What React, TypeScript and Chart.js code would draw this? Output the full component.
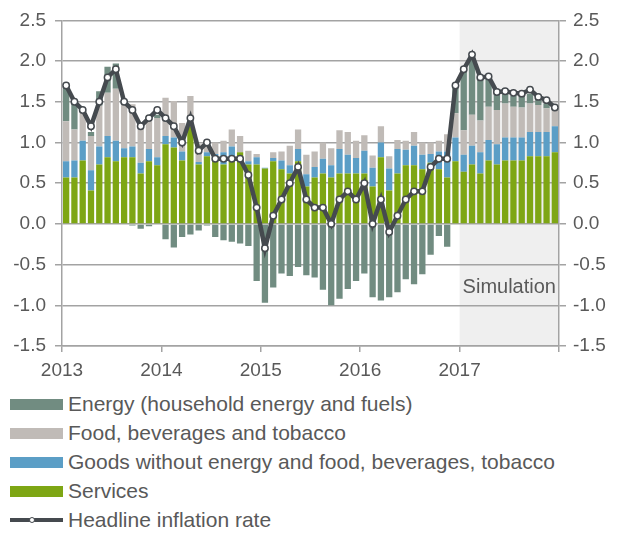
import React, { useEffect, useRef } from "react";
import { Chart, registerables } from "chart.js";

Chart.register(...registerables);

const years = ["2013", "2014", "2015", "2016", "2017"];

// Contributions (percentage points), Jan 2013 – Dec 2017
const services = [
  0.57, 0.57, 0.78, 0.41, 0.73, 0.82, 0.77, 0.82, 0.82, 0.62, 0.77, 0.72,
  0.98, 0.94, 0.78, 1.2, 0.73, 0.83, 0.8, 0.73, 0.82, 0.88, 0.73, 0.73,
  0.68, 0.77, 0.67, 0.62, 0.77, 0.46, 0.57, 0.62, 0.57, 0.62, 0.62, 0.62,
  0.62, 0.46, 0.82, 0.41, 0.62, 0.72, 0.72, 0.67, 0.75, 0.67, 0.57, 0.77,
  0.64, 0.73, 0.62, 0.78, 0.73, 0.78, 0.78, 0.78, 0.83, 0.83, 0.83, 0.88,
];
const goods = [
  0.2, 0.21, 0.24, 0.25, 0.22, 0.26, 0.25, 0.11, 0.13, 0.13, 0.15, 0.1,
  0.1, 0.12, 0.11, 0.0, 0.03, 0.05, 0.06, 0.15, 0.13, 0.0, 0.04, 0.09,
  0.01, 0.04, 0.11, 0.1, 0.15, 0.15, 0.13, 0.18, 0.15, 0.3, 0.23, 0.19,
  0.28, 0.23, 0.18, 0.27, 0.3, 0.19, 0.24, 0.18, 0.11, 0.22, 0.32, 0.29,
  0.21, 0.23, 0.26, 0.25, 0.25, 0.28, 0.28, 0.28, 0.3, 0.3, 0.3, 0.32,
];
const food = [
  0.49, 0.38, 0.37, 0.42, 0.5, 0.53, 0.64, 0.54, 0.52, 0.43, 0.34, 0.48,
  0.47, 0.45, 0.35, 0.37, 0.22, 0.12, 0.14, 0.14, 0.21, 0.2, 0.13, 0.04,
  0.0, 0.07, 0.11, 0.24, 0.24, 0.24, 0.19, 0.2, 0.21, 0.23, 0.28, 0.21,
  0.19, 0.15, 0.2, 0.15, 0.11, 0.11, 0.17, 0.15, 0.14, 0.13, 0.21, 0.3,
  0.3, 0.38, 0.39, 0.41, 0.42, 0.42, 0.38, 0.37, 0.35, 0.33, 0.29, 0.2,
];
const energy = [
  0.43, 0.33, 0.02, 0.05, 0.18, 0.32, 0.31, 0.03, -0.02, -0.06, -0.03, 0.04,
  -0.19, -0.29, -0.16, -0.13, -0.08, -0.02, -0.16, -0.2, -0.22, -0.24, -0.27, -0.7,
  -0.97, -0.78, -0.61, -0.64, -0.53, -0.63, -0.66, -0.81, -1.0, -0.92, -0.8, -0.7,
  -0.61, -0.9, -0.94, -0.9, -0.84, -0.68, -0.74, -0.62, -0.38, -0.15, -0.28, 0.32,
  0.77, 0.7, 0.53, 0.36, 0.22, 0.12, 0.13, 0.14, 0.12, 0.08, 0.06, 0.02,
];
const headline = [
  1.7, 1.5, 1.4, 1.2, 1.5, 1.8, 1.9, 1.5, 1.4, 1.2, 1.3, 1.4,
  1.3, 1.2, 1.0, 1.3, 0.9, 1.0, 0.8, 0.8, 0.8, 0.8, 0.6, 0.2,
  -0.3, 0.1, 0.3, 0.5, 0.7, 0.3, 0.2, 0.2, 0.0, 0.3, 0.4, 0.3,
  0.5, 0.0, 0.3, -0.1, 0.1, 0.3, 0.4, 0.4, 0.7, 0.8, 0.8, 1.7,
  1.9, 2.08, 1.8, 1.81, 1.62, 1.63, 1.61, 1.6, 1.65, 1.56, 1.52, 1.43,
];

const simulationStart = 48; // month index where the simulation starts
const simulationLabel = "Simulation";

const seriesLabels = [
  "Energy (household energy and fuels)",
  "Food, beverages and tobacco",
  "Goods without energy and food, beverages, tobacco",
  "Services",
  "Headline inflation rate",
];

const COLORS = {
  energy: "#718c81",
  food: "#c0bbb7",
  goods: "#5b9ec6",
  services: "#7ea614",
  line: "#454a4f",
  grid: "#a3a3a3",
  text: "#595959",
  shade: "#efefef",
};

const FONT = "'Liberation Sans', Arial, Helvetica, sans-serif";

const monthLabels = years.flatMap((y) =>
  Array.from({ length: 12 }, (_, m) => `${y}-${String(m + 1).padStart(2, "0")}`)
);

const shadePlugin = {
  id: "simShade",
  beforeDraw(chart: any) {
    const { ctx, chartArea, scales } = chart;
    const xs = scales.xt;
    const x0 = xs.getPixelForValue(simulationStart);
    const x1 = xs.getPixelForValue(monthLabels.length);
    ctx.save();
    ctx.fillStyle = COLORS.shade;
    ctx.fillRect(x0, chartArea.top, x1 - x0, chartArea.bottom - chartArea.top);
    ctx.restore();
  },
  afterDatasetsDraw(chart: any) {
    const { ctx, scales } = chart;
    const xs = scales.xt;
    const x0 = xs.getPixelForValue(simulationStart);
    const x1 = xs.getPixelForValue(monthLabels.length);
    const y = scales.y.getPixelForValue(-0.78);
    ctx.save();
    ctx.fillStyle = COLORS.text;
    ctx.font = `20px ${FONT}`;
    ctx.textAlign = "center";
    ctx.textBaseline = "middle";
    ctx.fillText(simulationLabel, (x0 + x1) / 2, y);
    ctx.restore();
  },
};

export default function App() {
  const ref = useRef<HTMLCanvasElement | null>(null);

  useEffect(() => {
    if (!ref.current) return;
    const barBase = {
      type: "bar" as const,
      yAxisID: "y",
      xAxisID: "x",
      barPercentage: 0.76,
      categoryPercentage: 1,
      borderWidth: 0,
      order: 1,
    };
    const chart = new Chart(ref.current, {
      type: "bar",
      data: {
        labels: monthLabels,
        datasets: [
          { ...barBase, label: seriesLabels[3], data: services, backgroundColor: COLORS.services },
          { ...barBase, label: seriesLabels[2], data: goods, backgroundColor: COLORS.goods },
          { ...barBase, label: seriesLabels[1], data: food, backgroundColor: COLORS.food },
          { ...barBase, label: seriesLabels[0], data: energy, backgroundColor: COLORS.energy },
          {
            type: "line" as const,
            label: seriesLabels[4],
            data: headline,
            yAxisID: "y2",
            xAxisID: "x",
            borderColor: COLORS.line,
            borderWidth: 4.5,
            pointRadius: 3.2,
            pointBorderWidth: 1.5,
            pointBackgroundColor: "#ffffff",
            pointBorderColor: COLORS.line,
            tension: 0,
            order: 0,
          } as any,
        ],
      },
      options: {
        responsive: false,
        animation: false,
        layout: { padding: { top: 0, left: 0, right: 0, bottom: 0 } },
        plugins: { legend: { display: false }, tooltip: { enabled: false } },
        scales: {
          x: {
            type: "category",
            display: false,
            stacked: true,
            offset: true,
          },
          xt: {
            type: "linear",
            position: "bottom",
            min: 0,
            max: monthLabels.length,
            offset: false,
            grid: {
              offset: false,
              drawOnChartArea: false,
              drawTicks: true,
              tickLength: 6,
              color: COLORS.grid,
              lineWidth: 1.5,
            },
            border: { display: true, color: COLORS.grid, width: 1.5 },
            ticks: {
              stepSize: 12,
              autoSkip: false,
              maxRotation: 0,
              padding: 7,
              color: COLORS.text,
              font: { family: FONT, size: 19 },
              callback: (v: any) => {
                const idx = Math.round(Number(v) / 12);
                return idx < years.length ? years[idx] : "";
              },
            },
            afterFit: (s: any) => {
              s.height = 42;
            },
          },
          y: {
            type: "linear",
            position: "left",
            stacked: true,
            min: -1.5,
            max: 2.5,
            grid: { color: COLORS.grid, lineWidth: 1.5, tickLength: 7 },
            border: { display: true, color: COLORS.grid, width: 1.5 },
            ticks: {
              stepSize: 0.5,
              padding: 9,
              color: COLORS.text,
              font: { family: FONT, size: 19 },
              callback: (v: any) => Number(v).toFixed(1),
            },
            afterFit: (s: any) => {
              s.width = 54;
            },
          },
          y2: {
            type: "linear",
            position: "right",
            min: -1.5,
            max: 2.5,
            grid: { drawOnChartArea: false, color: COLORS.grid, lineWidth: 1.5, tickLength: 7 },
            border: { display: true, color: COLORS.grid, width: 1.5 },
            ticks: {
              stepSize: 0.5,
              padding: 7,
              color: COLORS.text,
              font: { family: FONT, size: 19 },
              callback: (v: any) => Number(v).toFixed(1),
            },
            afterFit: (s: any) => {
              s.width = 50;
            },
          },
        },
      },
      plugins: [shadePlugin],
    });
    return () => chart.destroy();
  }, []);

  const swatches = [COLORS.energy, COLORS.food, COLORS.goods, COLORS.services];

  return (
    <div
      style={{
        position: "relative",
        width: 601,
        height: 528,
        marginTop: -8,
        fontFamily: FONT,
      }}
    >
      <canvas
        ref={ref}
        width={601}
        height={388}
        style={{ display: "block", position: "absolute", left: 0, top: 0 }}
      />
      <div style={{ position: "absolute", left: 2, top: 392 }}>
        {seriesLabels.map((lab, i) => (
          <div
            key={lab}
            style={{
              display: "flex",
              alignItems: "center",
              height: 24,
              marginBottom: i < 4 ? 5 : 0,
              color: COLORS.text,
              fontSize: 21,
              lineHeight: "24px",
              whiteSpace: "nowrap",
            }}
          >
            {i < 4 ? (
              <span style={{ display: "inline-block", width: 53, height: 11, background: swatches[i] }} />
            ) : (
              <span style={{ position: "relative", display: "inline-block", width: 53, height: 11 }}>
                <span style={{ position: "absolute", left: 0, top: 3.5, width: 53, height: 4, background: COLORS.line }} />
                <span
                  style={{
                    position: "absolute",
                    left: 19,
                    top: 2,
                    width: 4,
                    height: 4,
                    borderRadius: "50%",
                    background: "#fff",
                    border: `1.5px solid ${COLORS.line}`,
                  }}
                />
              </span>
            )}
            <span style={{ marginLeft: 5 }}>{lab}</span>
          </div>
        ))}
      </div>
    </div>
  );
}
